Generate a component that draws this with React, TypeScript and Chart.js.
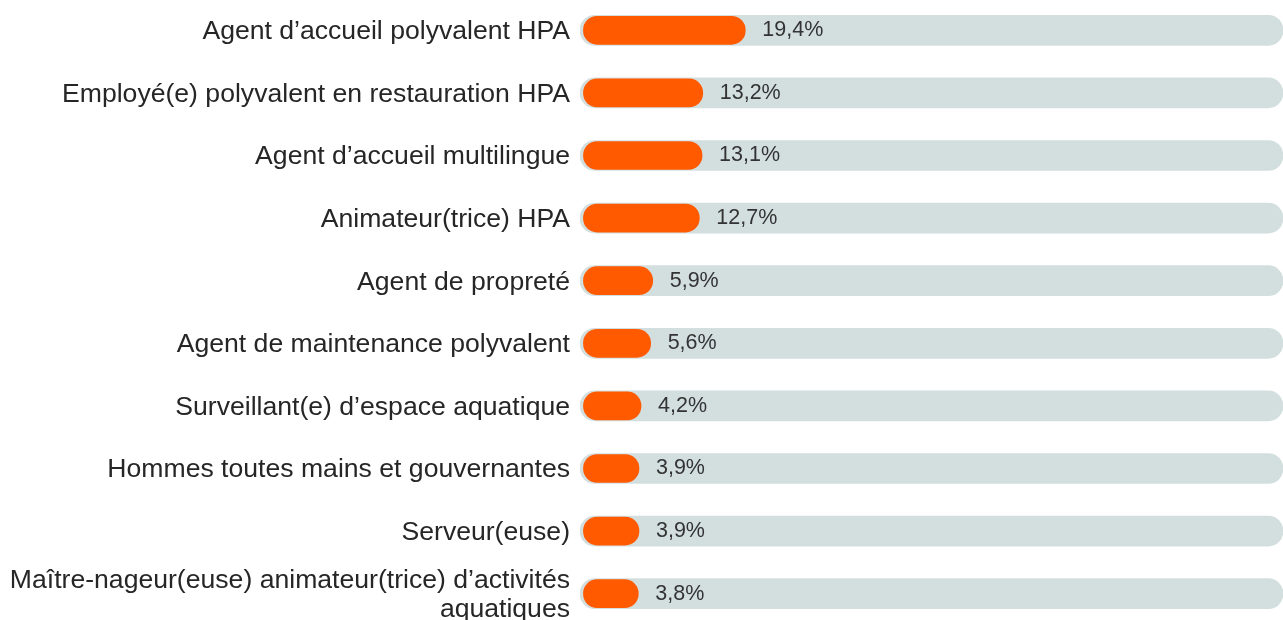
import React, { useEffect, useRef } from "react";
import { Chart, registerables } from "chart.js";

Chart.register(...registerables);

const categories: (string | string[])[] = [
  "Agent d’accueil polyvalent HPA",
  "Employé(e) polyvalent en restauration HPA",
  "Agent d’accueil multilingue",
  "Animateur(trice) HPA",
  "Agent de propreté",
  "Agent de maintenance polyvalent",
  "Surveillant(e) d’espace aquatique",
  "Hommes toutes mains et gouvernantes",
  "Serveur(euse)",
  ["Maître-nageur(euse) animateur(trice) d’activités", "aquatiques"],
];

const values = [19.4, 13.2, 13.1, 12.7, 5.9, 5.6, 4.2, 3.9, 3.9, 3.8];

const valueLabels = ["19,4%", "13,2%", "13,1%", "12,7%", "5,9%", "5,6%", "4,2%", "3,9%", "3,9%", "3,8%"];

const AXIS_MIN = -2.5;
const AXIS_MAX = 100;
const CAP = 2.2; // round cap extent of the pill bars, in axis units

const ORANGE = "#ff5a00";
const TRACK = "#d3dfdf";
const FONT = "'Liberation Sans', Arial, sans-serif";

export default function App() {
  const ref = useRef<HTMLCanvasElement | null>(null);

  useEffect(() => {
    if (!ref.current) return;
    const labelPlugin = {
      id: "valueLabels",
      afterDatasetsDraw(chart: any) {
        const meta = chart.getDatasetMeta(0);
        const ctx = chart.ctx;
        ctx.save();
        ctx.font = `21.5px ${FONT}`;
        ctx.fillStyle = "#333333";
        ctx.textAlign = "left";
        ctx.textBaseline = "middle";
        meta.data.forEach((el: any, i: number) => {
          ctx.fillText(valueLabels[i], el.x + 17, el.y);
        });
        ctx.restore();
      },
    };

    const chart = new Chart(ref.current, {
      type: "bar",
      data: {
        labels: categories,
        datasets: [
          {
            data: values.map((v) => [-2.0, v + CAP]) as any,
            backgroundColor: ORANGE,
            borderRadius: 14,
            borderSkipped: false,
            barThickness: 28,
            order: 0,
          },
          {
            data: values.map(() => [AXIS_MIN, AXIS_MAX]) as any,
            backgroundColor: TRACK,
            borderRadius: 15,
            borderSkipped: false,
            barThickness: 30,
            order: 1,
          },
        ],
      },
      options: {
        indexAxis: "y",
        animation: false,
        responsive: true,
        maintainAspectRatio: false,
        layout: { padding: 0 },
        plugins: {
          legend: { display: false },
          tooltip: { enabled: false },
        },
        datasets: { bar: { grouped: false } } as any,
        scales: {
          x: {
            display: false,
            min: AXIS_MIN,
            max: AXIS_MAX,
          },
          y: {
            grid: { display: false, drawTicks: false },
            border: { display: false },
            afterFit(scale: any) {
              scale.width = 580;
              scale.paddingTop = 0;
              scale.paddingBottom = 0;
            },
            ticks: {
              padding: 10,
              labelOffset: 1.5,
              color: "#262626",
              font: { family: FONT, size: 26.6, lineHeight: 1.1 },
            },
          },
        },
      },
      plugins: [labelPlugin],
    });
    return () => chart.destroy();
  }, []);

  return (
    <div style={{ position: "absolute", left: 0, top: -1, width: 1283, height: 626 }}>
      <canvas ref={ref} />
    </div>
  );
}
